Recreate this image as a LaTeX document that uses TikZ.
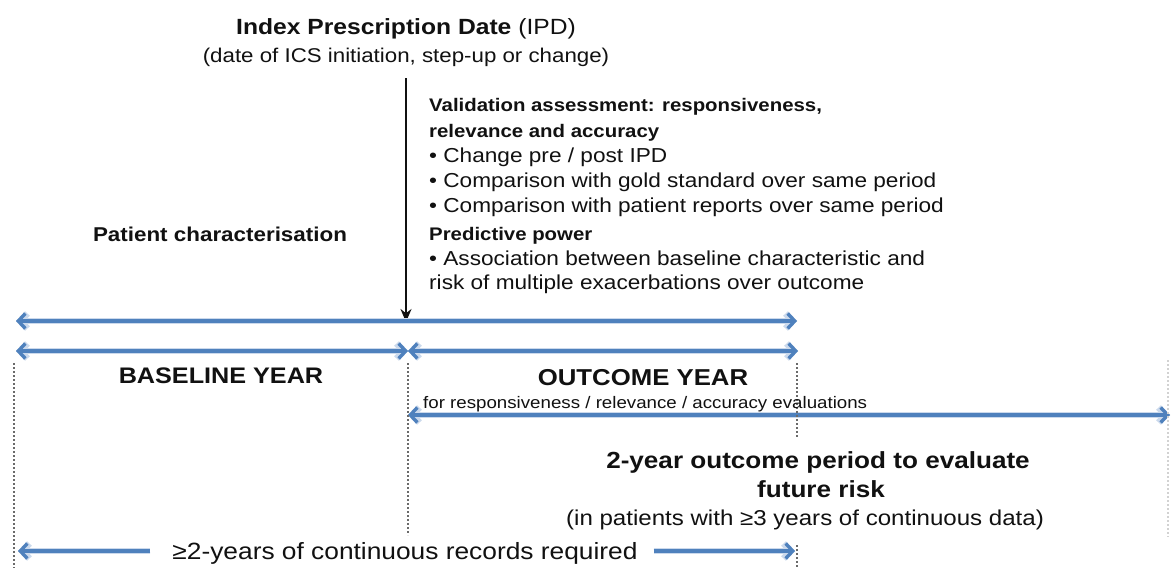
\documentclass[tikz,border=0pt]{standalone}
\usepackage{fontspec}
\setmainfont{Liberation Sans}[FakeStretch=1.12]
\usetikzlibrary{arrows.meta}
\definecolor{spanblue}{HTML}{4F81BD}
\definecolor{spanhalo}{HTML}{CBD9EC}
\definecolor{ink}{HTML}{111111}
\definecolor{guide}{HTML}{6A6A6A}
\begin{document}
\begin{tikzpicture}[x=1pt,y=-1pt,
  >={Straight Barb[length=7pt,width=15pt]},
  txt/.style={inner sep=0pt, text=ink},
  fs/.style={font=\fontsize{#1}{#1}\selectfont},
  span/.style={draw=spanblue, line width=3.4pt,
    preaction={draw=spanhalo, line width=6.5pt}},
  guideline/.style={draw=guide, line width=1.4pt, dash pattern=on 2.4pt off 1.6pt},
  faintguide/.style={guideline, draw=guide!30},
  ipdarrow/.style={draw=ink, line width=2.8pt, -{Stealth[length=13pt,width=11pt]}}
]
\useasboundingbox[fill=white] (0,0) rectangle (1172,568);

% --- index prescription date -------------------------------------------
\node[txt, fs=22, anchor=base] (ipd) at (406,34)
  {\textbf{Index Prescription Date} (IPD)};
\node[txt, fs=19.9, anchor=base] (ipdnote) at (406,62)
  {(date of ICS initiation, step-up or change)};
\coordinate (ipdtop) at (406,78);
\coordinate (ipdtip) at (406,322);
\draw[ipdarrow] (ipdtop) -- (ipdtip);

% --- assessments --------------------------------------------------------
\node[txt, fs=18.2, anchor=base west] (v1) at (429,111)
  {\bfseries Validation assessment: responsiveness,};
\node[txt, fs=18.2, anchor=base west] (v2) at (429,137)
  {\bfseries relevance and accuracy};
\node[txt, fs=20.2, anchor=base west] (v3) at (429,162)
  {• Change pre / post IPD};
\node[txt, fs=20.2, anchor=base west] (v4) at (429,187)
  {• Comparison with gold standard over same period};
\node[txt, fs=20.2, anchor=base west] (v5) at (429,212)
  {• Comparison with patient reports over same period};
\node[txt, fs=18.2, anchor=base west] (v6) at (429,240)
  {\bfseries Predictive power};
\node[txt, fs=20.2, anchor=base west] (v7) at (429,265)
  {• Association between baseline characteristic and};
\node[txt, fs=20.2, anchor=base west] (v8) at (429,289)
  {risk of multiple exacerbations over outcome};

\node[txt, fs=20, anchor=base] (pchar) at (220,241)
  {\bfseries Patient characterisation};

% --- time spans -----------------------------------------------------------
\coordinate (a1) at (16,321);  \coordinate (b1) at (797,321);
\coordinate (a2) at (16,351);  \coordinate (m2) at (408,351);
\coordinate (b2) at (798,351);
\coordinate (a3) at (408,415); \coordinate (b3) at (1170,415);
\draw[span, <->] (a1) -- (b1);
\draw[span, <->] (a2) -- (m2);
\draw[span, <->] (m2) -- (b2);
\draw[span, <->] (a3) -- (b3);

% --- period guides ---------------------------------------------------------
\coordinate (g1t) at (14,363);   \coordinate (g1b) at (14,568);
\coordinate (g2t) at (408,363);  \coordinate (g2b) at (408,535);
\coordinate (g3t) at (797,363);  \coordinate (g3b) at (797,437);
\coordinate (g4t) at (797,545);  \coordinate (g4b) at (797,568);
\coordinate (g5t) at (1168,360); \coordinate (g5b) at (1168,537);
\draw[guideline] (g1t) -- (g1b);
\draw[guideline] (g2t) -- (g2b);
\draw[guideline] (g3t) -- (g3b);
\draw[guideline] (g4t) -- (g4b);
\draw[faintguide] (g5t) -- (g5b);

% --- period labels ---------------------------------------------------------
\node[txt, fs=22.5, anchor=base] (base) at (221,383) {\bfseries BASELINE YEAR};
\node[txt, fs=23, anchor=base] (outc) at (643,385) {\bfseries OUTCOME YEAR};
\node[txt, fs=16.7, anchor=base west] (outcnote) at (423,408)
  {for responsiveness / relevance / accuracy evaluations};

\node[txt, fs=23.3, anchor=base] (fut1) at (818,468)
  {\bfseries 2-year outcome period to evaluate};
\node[txt, fs=23.3, anchor=base] (fut2) at (821,497)
  {\bfseries future risk};
\node[txt, fs=21.5, anchor=base] (futnote) at (805,525)
  {(in patients with ≥3 years of continuous data)};

% --- record requirement ------------------------------------------------
\node[txt, fs=23.5, anchor=base] (req) at (405,559)
  {≥2-years of continuous records required};
\coordinate (rl) at (18,551);
\coordinate (rr) at (795,551);
\draw[span, ->] (req.west |- rl) ++(-22,0) coordinate (rls) -- (rl);
\draw[span, ->] (req.east |- rr) ++(16,0) coordinate (rrs) -- (rr);
\end{tikzpicture}
\end{document}
